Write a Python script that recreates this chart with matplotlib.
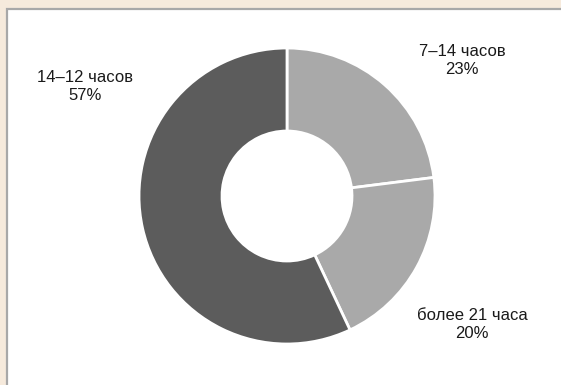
import matplotlib.pyplot as plt
from matplotlib.patches import Rectangle

# Time spent, share of respondents (clockwise from top)
labels = ["7–14 часов", "более 21 часа", "14–12 часов"]
shares = [23, 20, 57]
colors = ["#a9a9a9", "#a9a9a9", "#5c5c5c"]
label_pos = [(462, 61), (472, 324), (85, 87)]

plt.rcParams['font.family'] = ['Liberation Sans', 'DejaVu Sans']

W, H = 561, 385
fig = plt.figure(figsize=(W / 100, H / 100), dpi=100, facecolor="#f6eadc")

# white panel with grey border
fig.patches.append(Rectangle((7 / W, -0.05), 1.2, (H - 9.5) / H + 0.05,
                             transform=fig.transFigure, facecolor="white",
                             edgecolor="#a8a8a8", linewidth=1.6, zorder=-1))

ax = fig.add_axes([0, 0, 1, 1])
ax.set_facecolor("none")
ax.pie(shares, colors=colors, startangle=90, counterclock=False,
       center=(287, H - 196), radius=148,
       wedgeprops=dict(width=148 - 65, edgecolor="white", linewidth=2))
ax.set_xlim(0, W)
ax.set_ylim(0, H)
ax.set_aspect("equal")
ax.axis("off")

for lab, s, (x, y) in zip(labels, shares, label_pos):
    ax.text(x, H - y, f"{lab}\n{s}%", ha="center", va="center",
            fontsize=12, color="#1a1a1a", linespacing=1.25)

fig.savefig("out.png", dpi=100, facecolor=fig.get_facecolor())
